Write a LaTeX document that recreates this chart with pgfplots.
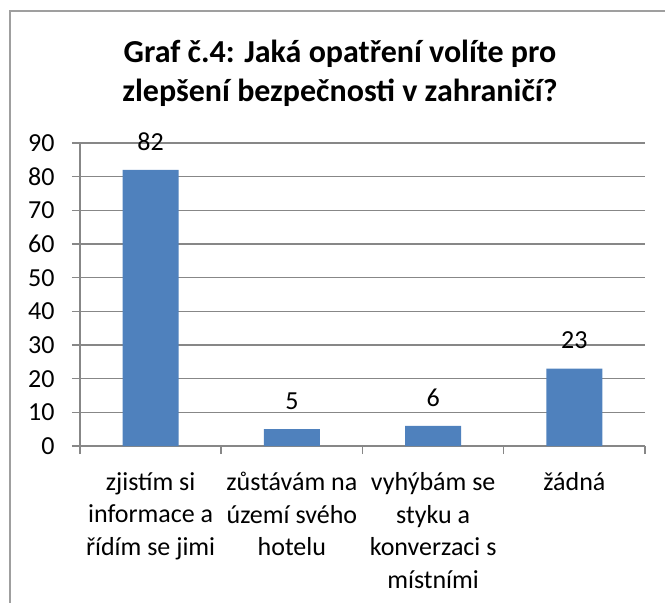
\documentclass[border=0pt]{standalone}
\usepackage{pgfplots}
\pgfplotsset{compat=1.18}
\usepackage{fontspec}
\setmainfont{Carlito}
\definecolor{barblue}{HTML}{4F81BD}
\definecolor{gridgray}{HTML}{878787}
\begin{document}
\begin{tikzpicture}[x=1pt,y=1pt]
\begin{axis}[
    scale only axis, width=565pt, height=303pt,
    xmin=-0.5, xmax=3.5, ymin=0, ymax=90,
    ytick={0,10,...,90},
    xtick={0,1,2,3},
    xticklabels={{zjistím si\\informace a\\řídím se jimi},{zůstávám na\\území svého\\hotelu},{vyhýbám se\\styku a\\konverzaci s\\místními},{žádná}},
    minor xtick={-0.5,0.5,1.5,2.5,3.5},
    axis lines*=left,
    axis line style={gridgray, line width=1.5pt},
    ymajorgrids,
    grid style={gridgray, line width=1.5pt},
    tick align=outside,
    major tick length=8pt, minor tick length=8pt,
    major x tick style={draw=none},
    minor x tick style={gridgray, line width=1.5pt},
    ytick style={gridgray, line width=1.5pt},
    /pgf/number format/assume math mode=true,
    yticklabel style={font=\fontsize{26}{31}\selectfont, xshift=-14pt},
    xticklabel style={font=\fontsize{26}{32.5}\selectfont, align=center, yshift=-15pt},
    nodes near coords,
    every node near coord/.append style={font=\fontsize{26}{31}\selectfont, yshift=16pt, text=black},
    ]
\addplot[ybar, bar width=56pt, fill=barblue, draw=none] coordinates {(0,82)(1,5)(2,6)(3,23)};
\coordinate (O) at (rel axis cs:0,0);
\end{axis}
\pgfresetboundingbox
\begin{scope}[shift={(O)}, xshift=-80pt, yshift=-157pt]
\path[use as bounding box] (0,0) rectangle (665,603);
\draw[gridgray!80, line width=1.5pt] (10,0) -- (10,592) -- (665,592);
\node[font=\fontsize{32}{40}\selectfont\bfseries, anchor=base] at (340,540) {Graf č.4: Jaká opatření volíte pro};
\node[font=\fontsize{32}{40}\selectfont\bfseries, anchor=base] at (340,501) {zlepšení bezpečnosti v zahraničí?};
\end{scope}
\end{tikzpicture}
\end{document}
